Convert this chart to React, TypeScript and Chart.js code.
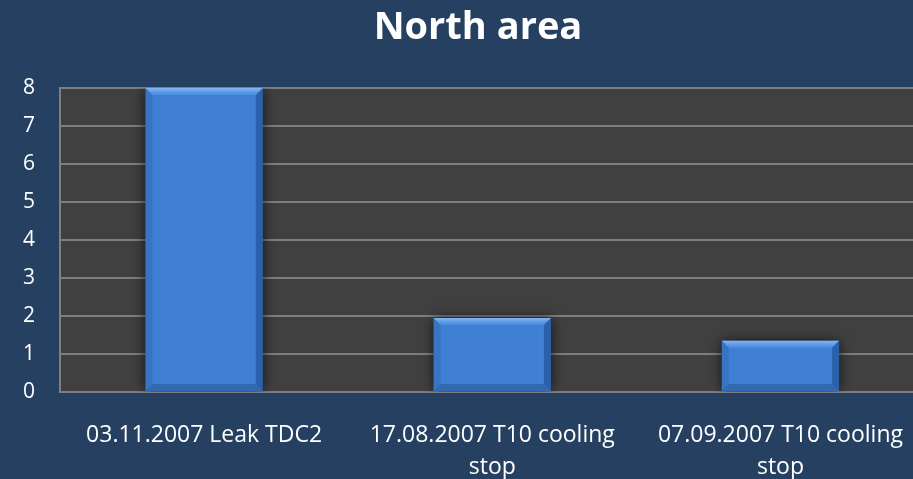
import { useEffect, useRef } from "react";
import { Chart, registerables } from "chart.js";

Chart.register(...registerables);

const titleText = "North area";
const categories: string[][] = [
  ["03.11.2007 Leak TDC2"],
  ["17.08.2007 T10 cooling", "stop"],
  ["07.09.2007 T10 cooling", "stop"],
];
const values: number[] = [8, 1.95, 1.35];
const yMin = 0;
const yMax = 8;
const yStep = 1;

const BG = "#254061";
const PLOT_BG = "#404040";
const GRID = "#7f7f7f";
const BAR = "#3f80d4";
const FONT = "'Open Sans', 'Noto Sans', sans-serif";

const plotBgPlugin = {
  id: "plotBg",
  beforeDraw(chart: any) {
    const { ctx, chartArea } = chart;
    ctx.save();
    ctx.fillStyle = PLOT_BG;
    ctx.fillRect(chartArea.left, chartArea.top, chartArea.right - chartArea.left, chartArea.bottom - chartArea.top);
    ctx.restore();
  },
};

const titlePlugin = {
  id: "customTitle",
  afterDraw(chart: any) {
    const { ctx } = chart;
    ctx.save();
    ctx.fillStyle = "#ffffff";
    ctx.font = `bold 38px ${FONT}`;
    ctx.textAlign = "center";
    ctx.textBaseline = "alphabetic";
    ctx.fillText(titleText, 478, 39);
    ctx.restore();
  },
};

const bevelPlugin = {
  id: "bevel",
  beforeDatasetsDraw(chart: any) {
    const ctx = chart.ctx;
    ctx.save();
    ctx.shadowColor = "rgba(0,0,0,0.7)";
    ctx.shadowBlur = 12;
    ctx.shadowOffsetX = 0;
    ctx.shadowOffsetY = 0;
  },
  afterDatasetsDraw(chart: any) {
    const ctx = chart.ctx;
    ctx.restore();
    const meta = chart.getDatasetMeta(0);
    meta.data.forEach((bar: any) => {
      const { x, y, base, width } = bar.getProps(["x", "y", "base", "width"], true);
      const l = x - width / 2;
      const r = x + width / 2;
      const t = Math.min(y, base);
      const b = Math.max(y, base);
      const bv = Math.min(7, (b - t) / 4);
      ctx.save();
      const gt = ctx.createLinearGradient(0, t, 0, t + bv);
      gt.addColorStop(0, "rgba(140,190,250,0.9)");
      gt.addColorStop(1, "rgba(90,150,230,0.5)");
      ctx.fillStyle = gt;
      ctx.beginPath();
      ctx.moveTo(l, t);
      ctx.lineTo(r, t);
      ctx.lineTo(r - bv, t + bv);
      ctx.lineTo(l + bv, t + bv);
      ctx.closePath();
      ctx.fill();
      ctx.fillStyle = "rgba(30,70,130,0.4)";
      ctx.beginPath();
      ctx.moveTo(l, b);
      ctx.lineTo(r, b);
      ctx.lineTo(r - bv, b - bv);
      ctx.lineTo(l + bv, b - bv);
      ctx.closePath();
      ctx.fill();
      ctx.fillStyle = "rgba(40,90,160,0.3)";
      ctx.beginPath();
      ctx.moveTo(l, t);
      ctx.lineTo(l + bv, t + bv);
      ctx.lineTo(l + bv, b - bv);
      ctx.lineTo(l, b);
      ctx.closePath();
      ctx.fill();
      ctx.fillStyle = "rgba(20,60,120,0.45)";
      ctx.beginPath();
      ctx.moveTo(r, t);
      ctx.lineTo(r - bv, t + bv);
      ctx.lineTo(r - bv, b - bv);
      ctx.lineTo(r, b);
      ctx.closePath();
      ctx.fill();
      ctx.restore();
    });
  },
};

export default function App() {
  const ref = useRef<HTMLCanvasElement | null>(null);

  useEffect(() => {
    if (!ref.current) return;
    const chart = new Chart(ref.current, {
      type: "bar",
      data: {
        labels: categories,
        datasets: [
          {
            data: values,
            backgroundColor: BAR,
            borderWidth: 0,
            barPercentage: 0.407,
            categoryPercentage: 1,
          },
        ],
      },
      options: {
        animation: false,
        responsive: false,
        maintainAspectRatio: false,
        layout: { padding: { top: 88, left: 0, right: 0, bottom: 0 } },
        plugins: {
          legend: { display: false },
          title: { display: false },
          tooltip: { enabled: false },
        },
        scales: {
          x: {
            offset: true,
            grid: { display: false, drawTicks: false },
            border: { display: true, color: GRID, width: 2 },
            ticks: {
              color: "#ffffff",
              font: { family: FONT, size: 23, lineHeight: 1.4 },
              padding: 27,
              maxRotation: 0,
              autoSkip: false,
            },
            afterFit(scale: any) {
              scale.height = 87;
            },
          },
          y: {
            min: yMin,
            max: yMax,
            grid: { color: GRID, lineWidth: 2, drawTicks: false },
            border: { display: true, color: GRID, width: 2 },
            ticks: {
              stepSize: yStep,
              color: "#ffffff",
              font: { family: FONT, size: 21 },
              padding: 25,
            },
            afterFit(scale: any) {
              scale.width = 60;
            },
          },
        },
      },
      plugins: [plotBgPlugin, bevelPlugin, titlePlugin],
    });
    return () => chart.destroy();
  }, []);

  return (
    <div style={{ position: "fixed", left: 0, top: 0, width: 913, height: 479, background: BG, overflow: "hidden" }}>
      <canvas ref={ref} width={930} height={479} style={{ display: "block", width: 930, height: 479 }} />
    </div>
  );
}
